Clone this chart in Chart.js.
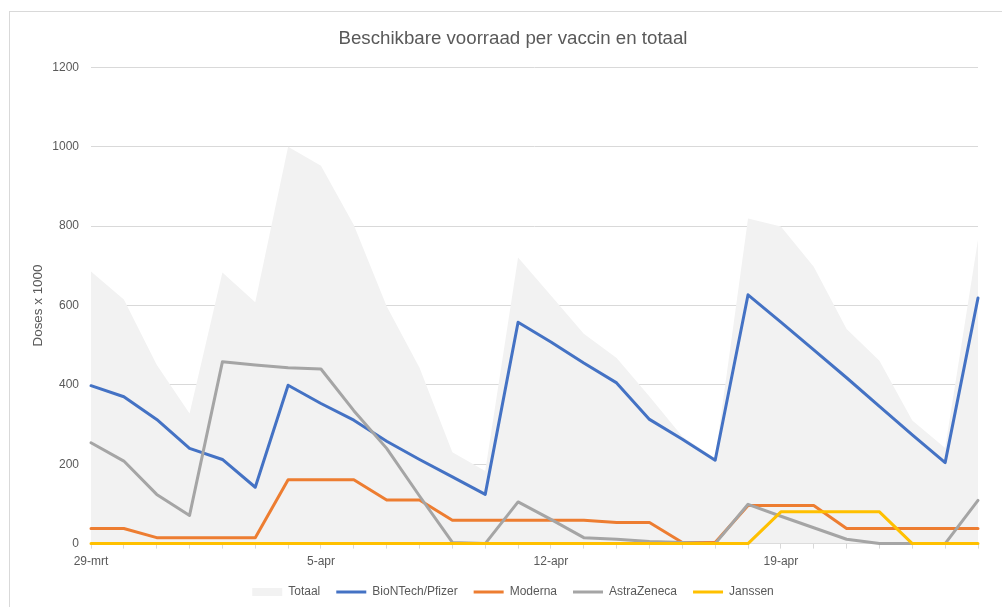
<!DOCTYPE html>
<html>
<head>
<meta charset="utf-8">
<script src="https://cdn.jsdelivr.net/npm/chart.js@4.4.1/dist/chart.umd.min.js"></script>
<style>
  html, body { margin: 0; padding: 0; background: #fff; overflow: hidden; }
  #frame { position: absolute; left: 9px; top: 11px; width: 1100px; height: 700px; border: 1px solid #d9d9d9; }
  #wrap { position: absolute; left: 10px; top: 12px; width: 1006px; height: 602px; }
</style>
</head>
<body>
<div id="frame"></div>
<div id="wrap"><canvas id="voorraadChart"></canvas></div>
<script>
// ==============================
// DATA (x 1000 doses)
// ==============================
const dagen = [
  "29-mrt", "30-mrt", "31-mrt", "1-apr", "2-apr", "3-apr", "4-apr",
  "5-apr", "6-apr", "7-apr", "8-apr", "9-apr", "10-apr", "11-apr",
  "12-apr", "13-apr", "14-apr", "15-apr", "16-apr", "17-apr", "18-apr",
  "19-apr", "20-apr", "21-apr", "22-apr", "23-apr", "24-apr", "25-apr"
];

const totaal = [686, 615, 451, 328, 683, 608, 1000, 952, 803, 598, 443, 230, 183, 721,
                625, 529, 468, 371, 270, 215, 819, 799, 698, 541, 461, 310, 241, 766];
const pfizer = [398, 370, 313, 240, 212, 142, 399, 353, 311, 258, 212, 168, 124, 558,
                508, 455, 405, 313, 263, 210, 627, 558, 488, 418, 346, 274, 204, 619];
const moderna = [38, 38, 15, 15, 15, 15, 161, 161, 161, 110, 110, 59, 59, 59,
                 59, 59, 53, 53, 3, 3, 96, 96, 96, 38, 38, 38, 38, 38];
const astraZeneca = [254, 208, 124, 71, 458, 450, 443, 440, 335, 240, 120, 3, 0, 105,
                     61, 15, 11, 5, 3, 0, 99, 69, 40, 11, 0, 0, 0, 109];
const janssen = [0, 0, 0, 0, 0, 0, 0, 0, 0, 0, 0, 0, 0, 0,
                 0, 0, 0, 0, 0, 0, 0, 80, 80, 80, 80, 0, 0, 0];

const yTicks = [0, 200, 400, 600, 800, 1000, 1200];

// ==============================
// CHART
// ==============================
Chart.defaults.font.family = "'Liberation Sans', Arial, sans-serif";
Chart.defaults.color = "#595959";

function lijn(label, data, color, order) {
  return {
    label: label,
    data: data,
    borderColor: color,
    backgroundColor: color,
    borderWidth: 3,
    pointRadius: 0,
    pointStyle: "line",
    borderJoinStyle: "round",
    borderCapStyle: "round",
    tension: 0,
    fill: false,
    clip: false,
    order: order,
  };
}

const ctx = document.getElementById("voorraadChart").getContext("2d");

new Chart(ctx, {
  type: "line",
  data: {
    labels: dagen,
    datasets: [
      {
        label: "Totaal",
        data: totaal,
        borderWidth: 0,
        borderColor: "rgba(0,0,0,0)",
        backgroundColor: "#f2f2f2",
        pointRadius: 0,
        pointStyle: "rect",
        fill: "origin",
        tension: 0,
        order: 5,
      },
      lijn("BioNTech/Pfizer", pfizer, "#4472c4", 4),
      lijn("Moderna", moderna, "#ed7d31", 3),
      lijn("AstraZeneca", astraZeneca, "#a5a5a5", 2),
      lijn("Janssen", janssen, "#ffc000", 1),
    ],
  },
  options: {
    responsive: true,
    maintainAspectRatio: false,
    animation: false,
    layout: { padding: { left: 0, right: 0, top: 0, bottom: 6 } },
    plugins: {
      title: {
        display: true,
        text: "Beschikbare voorraad per vaccin en totaal",
        color: "#595959",
        font: { size: 18.7, weight: "normal" },
        padding: { top: 16, bottom: 17 },
      },
      legend: {
        position: "bottom",
        labels: {
          usePointStyle: true,
          pointStyleWidth: 30,
          boxHeight: 8,
          padding: 16,
          color: "#595959",
          font: { size: 12 },
          sort: (a, b) => a.datasetIndex - b.datasetIndex,
          generateLabels: (chart) => {
            const items = Chart.defaults.plugins.legend.labels.generateLabels(chart);
            items.forEach(it => {
              const ds = chart.data.datasets[it.datasetIndex];
              if (ds.label === "Totaal") {
                it.fillStyle = "#f2f2f2";
                it.strokeStyle = "#f2f2f2";
                it.lineWidth = 0;
              } else {
                it.lineWidth = 3;
              }
            });
            return items;
          },
        },
      },
      tooltip: { enabled: false },
    },
    scales: {
      x: {
        offset: false,
        afterFit: (s) => { s.height = s.height - 5; },
        grid: {
          drawOnChartArea: false,
          drawTicks: true,
          tickLength: 5,
          color: "#d9d9d9",
        },
        border: { color: "#d9d9d9" },
        ticks: {
          autoSkip: false,
          maxRotation: 0,
          padding: 6,
          font: { size: 12 },
          callback: (v, i) => (i % 7 === 0 ? dagen[i] : ""),
        },
      },
      y: {
        min: yTicks[0],
        max: yTicks[yTicks.length - 1],
        afterFit: (s) => { s.width = 81; },
        grid: { color: "#d9d9d9", drawTicks: false },
        border: { display: false },
        ticks: {
          stepSize: yTicks[1] - yTicks[0],
          padding: 12,
          font: { size: 12 },
          callback: (v) => String(v),
        },
        title: {
          display: true,
          text: "Doses x 1000",
          color: "#595959",
          font: { size: 13.4 },
          padding: { top: 20, bottom: 0 },
        },
      },
      // lege as rechts, houdt ruimte vrij zoals in Excel
      yRechts: {
        type: "linear",
        position: "right",
        afterFit: (s) => { s.width = 38; },
        grid: { display: false, drawTicks: false },
        border: { display: false },
        ticks: { display: false },
      },
    },
  },
});
</script>
</body>
</html>
